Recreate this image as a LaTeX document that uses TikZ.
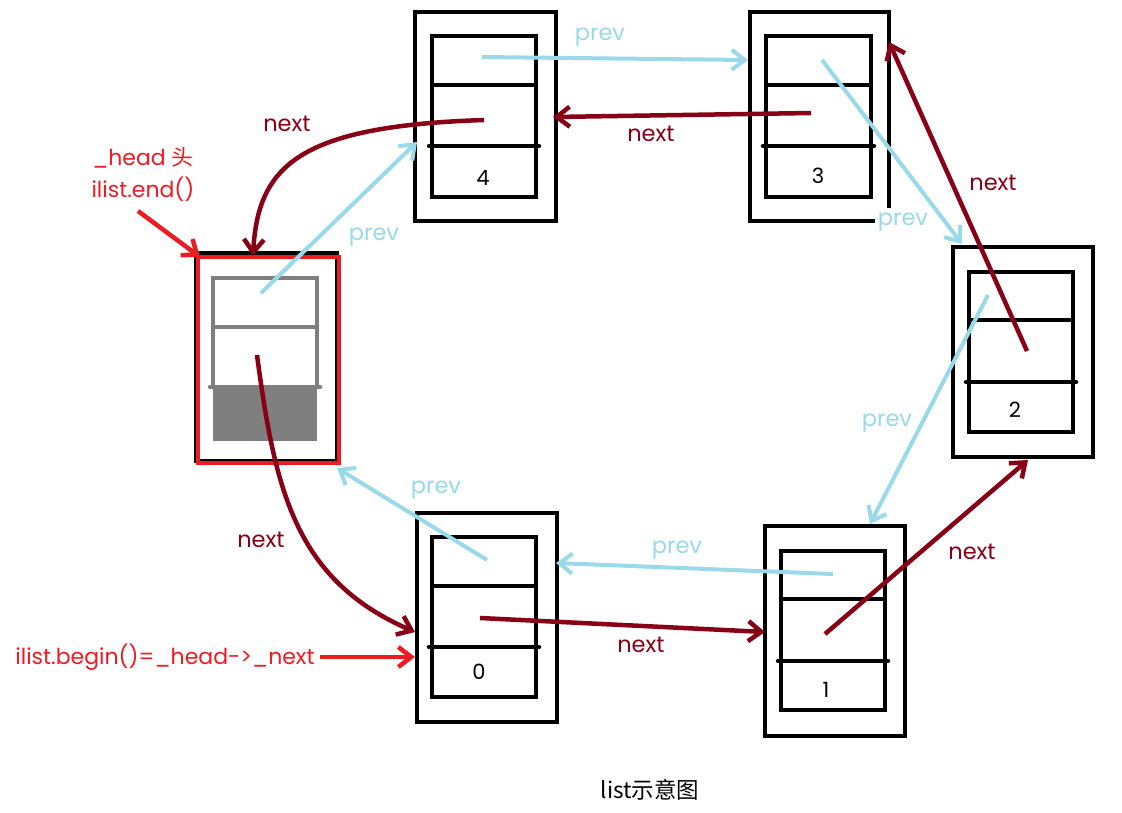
\documentclass[tikz,border=0pt]{standalone}
\usepackage{fontspec}
\setmainfont{Poppins}
\newfontfamily\cjk{Noto Sans CJK SC}
\usetikzlibrary{arrows.meta}
\definecolor{prevc}{HTML}{99D9EA}
\definecolor{nextc}{HTML}{880015}
\definecolor{redc}{HTML}{ED1C24}
\definecolor{grayc}{HTML}{7F7F7F}
\tikzset{
  boxline/.style={line width=4.5pt},
  divline/.style={line width=4.5pt, line cap=round},
  prevarr/.style={draw=prevc, line width=4pt, -{Straight Barb[length=13pt,width=20pt]}},
  nextarr/.style={draw=nextc, line width=4.5pt, -{Straight Barb[length=13pt,width=20pt]}},
  redarr/.style={draw=redc, line width=4.5pt, -{Straight Barb[length=13pt,width=20pt]}},
  plabel/.style={text=prevc, font=\fontsize{22.5}{24}\selectfont, inner sep=0pt},
  nlabel/.style={text=nextc, font=\fontsize{22.5}{24}\selectfont, inner sep=0pt},
  rlabel/.style={text=redc, font=\fontsize{22}{24}\selectfont, inner sep=0pt},
  digit/.style={font=\fontsize{21}{23}\selectfont, inner sep=0pt},
}
\begin{document}
\begin{tikzpicture}[x=1pt,y=-1pt]
\useasboundingbox (0,0) rectangle (1122,812);
\fill[white] (0,0) rectangle (1122,812);

% ---------- node 4
\draw[boxline] (415,12) rectangle (556,221);
\draw[boxline] (432,36) rectangle (536,197);
\draw[boxline] (432,85) -- (536,85);
\draw[divline] (429,146) -- (539,146);
\node[digit] (l4) at (483,178) {4};

% ---------- node 3 (open bottom-right corner)
\draw[boxline] (889,208) -- (889,12) -- (750,12) -- (750,221) -- (875,221);
\draw[boxline] (766,36) rectangle (871,197);
\draw[boxline] (766,85) -- (871,85);
\draw[divline] (763,146) -- (874,146);
\node[digit] (l3) at (818,176) {3};

% ---------- node 2
\draw[boxline] (953,247) rectangle (1093,457);
\draw[boxline] (969,272) rectangle (1073,432);
\draw[boxline] (969,320) -- (1073,320);
\draw[divline] (966,382) -- (1076,382);
\node[digit] (l2) at (1015,410) {2};

% ---------- node 1
\draw[boxline] (765,526) rectangle (905,736);
\draw[boxline] (781,551) rectangle (885,710);
\draw[boxline] (781,599) -- (885,599);
\draw[divline] (778,661) -- (888,661);
\node[digit] (l1) at (826,690) {1};

% ---------- node 0
\draw[boxline] (417,513) rectangle (557,722);
\draw[boxline] (432,537) rectangle (536,697);
\draw[boxline] (432,586) -- (536,586);
\draw[divline] (429,647) -- (539,647);
\node[digit] (l0) at (479,672) {0};

% ---------- head node
\draw[line width=4pt] (196,253) rectangle (337,461);
\draw[draw=redc, line width=4.5pt] (198,257) rectangle (339,463);
\fill[grayc] (213,387) rectangle (317,441);
\draw[draw=grayc, line width=4.5pt] (213,387) -- (213,278) -- (317,278) -- (317,387);
\draw[draw=grayc, line width=4.5pt] (213,327) -- (317,327);
\draw[draw=grayc, line width=4.5pt, line cap=round] (210,387) -- (320,387);

% ---------- coordinates for connectors
\coordinate (p1s) at (482,57);   \coordinate (p1e) at (748,60);
\coordinate (p2s) at (822,60);   \coordinate (p2e) at (962,244);
\coordinate (p3s) at (988,295);  \coordinate (p3e) at (870,524);
\coordinate (p4s) at (833,574);  \coordinate (p4e) at (556,563);
\coordinate (p5s) at (487,560);  \coordinate (p5e) at (337,468);
\coordinate (p6s) at (261,293);  \coordinate (p6e) at (417,142);

\coordinate (n1s) at (484,120);  \coordinate (n1e) at (253,256);
\coordinate (n2s) at (811,113);  \coordinate (n2e) at (553,117);
\coordinate (n3s) at (1027,351); \coordinate (n3e) at (889,42);
\coordinate (n4s) at (825,634);  \coordinate (n4e) at (1028,460);
\coordinate (n5s) at (480,618);  \coordinate (n5e) at (765,632);
\coordinate (n6s) at (257,355);  \coordinate (n6e) at (415,632);

\coordinate (r1s) at (138,211);  \coordinate (r1e) at (200,257);
\coordinate (r2s) at (320,657);  \coordinate (r2e) at (415,657);

% ---------- prev arrows
\draw[prevarr] (p1s) -- (p1e);
\draw[prevarr] (p2s) -- (p2e);
\draw[prevarr] (p3s) -- (p3e);
\draw[prevarr] (p4s) -- (p4e);
\draw[prevarr] (p5s) -- (p5e);
\draw[prevarr] (p6s) -- (p6e);

% ---------- next arrows
\draw[nextarr] (n1s) .. controls (300,126) and (258,165) .. (n1e);
\draw[nextarr] (n2s) -- (n2e);
\draw[nextarr] (n3s) -- (n3e);
\draw[nextarr] (n4s) -- (n4e);
\draw[nextarr] (n5s) -- (n5e);
\draw[nextarr] (n6s) .. controls (275,490) and (295,580) .. (n6e);

% ---------- red arrows
\draw[redarr] (r1s) -- (r1e);
\draw[redarr] (r2s) -- (r2e);

% ---------- labels
\node[plabel] (tp1) at (600,37) {prev};
\node[plabel] (tp2) at (903,222) {prev};
\node[plabel] (tp3) at (887,423) {prev};
\node[plabel] (tp4) at (677,550) {prev};
\node[plabel] (tp5) at (436,490) {prev};
\node[plabel] (tp6) at (374,237) {prev};

\node[nlabel] (tn1) at (287,124) {next};
\node[nlabel] (tn2) at (651,134) {next};
\node[nlabel] (tn3) at (993,183) {next};
\node[nlabel] (tn4) at (972,552) {next};
\node[nlabel] (tn5) at (641,645) {next};
\node[nlabel] (tn6) at (261,540) {next};

\node[rlabel] (th1) at (143,158) {\_head {\cjk 头}};
\node[rlabel] (th2) at (143,189) {ilist.end()};
\node[rlabel] (th3) at (165,657) {ilist.begin()=\_head->\_next};

\node[font=\fontsize{22.5}{24}\selectfont\cjk, inner sep=0pt] (cap) at (650,790) {list示意图};
\end{tikzpicture}
\end{document}
